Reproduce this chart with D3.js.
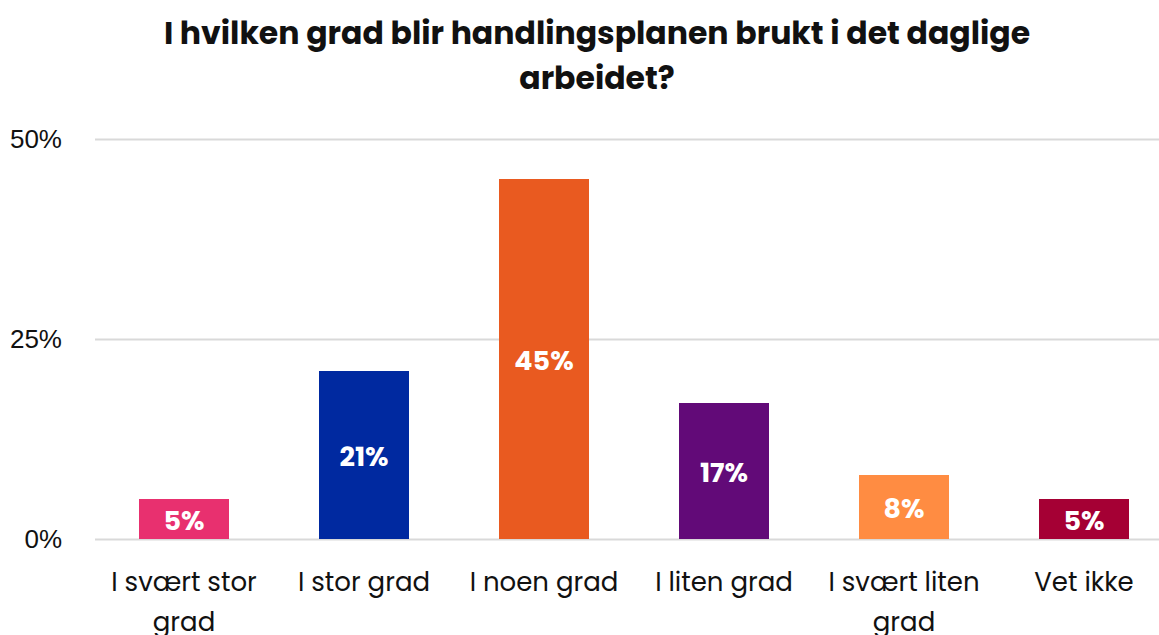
<!DOCTYPE html>
<html><head><meta charset="utf-8">
<script src="https://cdn.jsdelivr.net/npm/d3@7"></script>
<style>
html,body{margin:0;padding:0;background:#fff;}
svg{display:block;}
</style></head>
<body>
<script>
const titleLines = ["I hvilken grad blir handlingsplanen brukt i det daglige", "arbeidet?"];
const categories = [["I svært stor", "grad"], ["I stor grad"], ["I noen grad"], ["I liten grad"], ["I svært liten", "grad"], ["Vet ikke"]];
const values = [5, 21, 45, 17, 8, 5];
const colors = ["#E8306F", "#0029A0", "#E95A20", "#620A78", "#FF8C42", "#A50034"];
const yTicks = [0, 25, 50];

const W = 1159, H = 635;
const font = "Poppins, 'Open Sans', 'Noto Sans', sans-serif";
const svg = d3.select("body").append("svg").attr("width", W).attr("height", H);

const keys = categories.map((c, i) => i);
const x = d3.scaleBand().domain(keys).range([94, 1174]).paddingInner(0.5).paddingOuter(0.25);
const y = d3.scaleLinear().domain([0, 50]).range([539, 139]);

// title
svg.append("g").selectAll("text").data(titleLines).join("text")
  .attr("x", 597).attr("y", (d, i) => 44 + i * 45)
  .attr("text-anchor", "middle")
  .attr("font-family", font).attr("font-weight", 700).attr("font-size", 31.5)
  .attr("fill", "#111")
  .text(d => d);

// gridlines
const yAxis = d3.axisLeft(y).tickValues(yTicks).tickFormat(d => d + "%").tickSize(-(1159 - 95)).tickPadding(33);
const ga = svg.append("g").attr("transform", "translate(95,0)").call(yAxis);
ga.select(".domain").remove();
ga.selectAll(".tick line").attr("stroke", "#d9d9d9").attr("stroke-width", 2);
ga.selectAll(".tick text").attr("font-family", "'Liberation Sans', Arial, sans-serif").attr("font-size", 26).attr("fill", "#111");

// bars
svg.append("g").selectAll("rect").data(values).join("rect")
  .attr("x", (d, i) => x(i)).attr("width", x.bandwidth())
  .attr("y", d => y(d)).attr("height", d => y(0) - y(d))
  .attr("fill", (d, i) => colors[i]);

// value labels
svg.append("g").selectAll("text").data(values).join("text")
  .attr("x", (d, i) => x(i) + x.bandwidth() / 2)
  .attr("y", d => (y(d) + y(0)) / 2)
  .attr("dy", "0.42em")
  .attr("text-anchor", "middle")
  .attr("font-family", font).attr("font-weight", 700).attr("font-size", 27)
  .attr("fill", "#fff")
  .text(d => d + "%");

// category labels
const cl = svg.append("g").selectAll("text").data(categories).join("text")
  .attr("x", (d, i) => x(i) + x.bandwidth() / 2)
  .attr("y", 591)
  .attr("text-anchor", "middle")
  .attr("font-family", font).attr("font-size", 26)
  .attr("fill", "#111");
cl.selectAll("tspan").data(d => d).join("tspan")
  .attr("x", function() { return this.parentNode.getAttribute("x"); })
  .attr("dy", (d, i) => i === 0 ? 0 : 40)
  .text(d => d);
</script>
</body></html>
